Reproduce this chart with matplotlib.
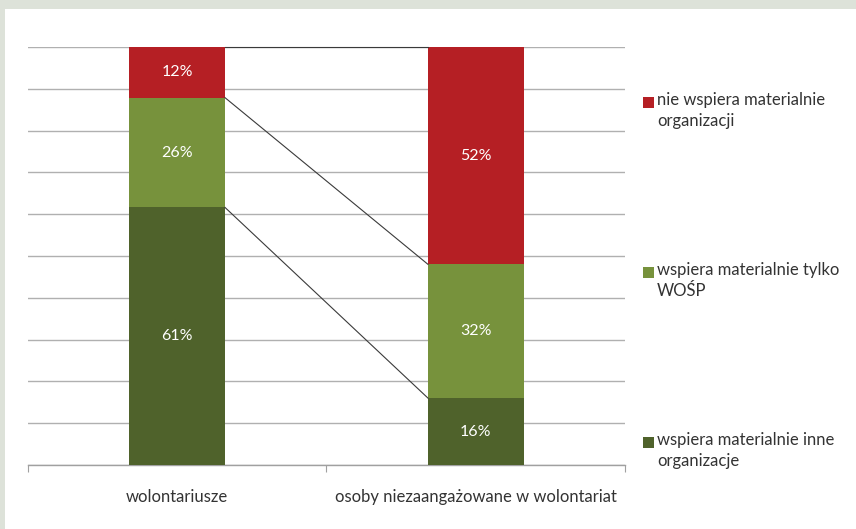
import matplotlib
matplotlib.use("Agg")
import matplotlib.pyplot as plt
from matplotlib.patches import Rectangle
import numpy as np

categories = ["wolontariusze", "osoby niezaangażowane w wolontariat"]
series_names = ["wspiera materialnie inne\norganizacje",
                "wspiera materialnie tylko\nWOŚP",
                "nie wspiera materialnie\norganizacji"]
series_values = [
    [61, 16],   # wspiera materialnie inne organizacje
    [26, 32],   # wspiera materialnie tylko WOŚP
    [12, 52],   # nie wspiera materialnie organizacji
]
colors = ["#4f622b", "#77923c", "#b51f24"]

plt.rcParams["font.family"] = ["Lato", "DejaVu Sans"]

fig = plt.figure(figsize=(8.56, 5.29), dpi=100, facecolor="#dde2d9")
fig.patches.append(Rectangle((5 / 856, 0), 1, (529 - 9) / 529,
                             transform=fig.transFigure, facecolor="white",
                             edgecolor="none", zorder=0))

ax = fig.add_axes([28 / 856, 64 / 529, 597 / 856, 418 / 529])
ax.set_zorder(2)
ax.set_facecolor("none")

vals = np.array(series_values, dtype=float)
totals = vals.sum(axis=0)
pct = vals / totals * 100  # 100% stacked
x = np.arange(len(categories))
width = 0.32

bottom = np.zeros(len(categories))
tops = []
for i, (name, col) in enumerate(zip(series_names, colors)):
    ax.bar(x, pct[i], width, bottom=bottom, color=col, zorder=3)
    for xi, b, h, v in zip(x, bottom, pct[i], vals[i]):
        ax.text(xi, b + h / 2, f"{int(v)}%", ha="center", va="center",
                color="white", fontsize=11.5, zorder=4)
    bottom = bottom + pct[i]
    tops.append(bottom.copy())

# series lines connecting segment boundaries
for t in tops:
    ax.plot([x[0] + width / 2, x[1] - width / 2], [t[0], t[1]],
            color="#3a3a3a", lw=0.8, zorder=4, clip_on=False)

ax.set_xlim(-0.5, 1.5)
ax.set_ylim(0, 100)
ax.set_yticks(np.arange(0, 101, 10))
ax.yaxis.grid(True, color="#b0b0b0", lw=1, zorder=1)
ax.tick_params(axis="y", left=False, labelleft=False)
for s in ["left", "right", "top"]:
    ax.spines[s].set_visible(False)
ax.spines["bottom"].set_color("#a0a0a0")
ax.spines["bottom"].set_linewidth(1)

ax.set_xticks([-0.5, 0.5, 1.5], minor=False)
ax.set_xticklabels([])
ax.tick_params(axis="x", which="major", length=5, color="#a0a0a0", direction="out")
ax.set_xticks(x, minor=True)
ax.set_xticklabels(categories, minor=True, fontsize=12, color="#333333")
ax.tick_params(axis="x", which="minor", length=0, pad=17)

# legend
leg_items = list(zip(series_names, colors))[::-1]
leg_y = [102, 272, 442]
for (name, col), yy in zip(leg_items, leg_y):
    fig.patches.append(Rectangle((643 / 856, 1 - (yy + 5.5) / 529), 11 / 856, 11 / 529,
                                 transform=fig.transFigure, facecolor=col,
                                 edgecolor="none", zorder=5))
    fig.text(657 / 856, 1 - (yy - 10) / 529, name, ha="left", va="top",
             fontsize=12, color="#333333", linespacing=1.35)

fig.savefig("out.png", dpi=100, facecolor=fig.get_facecolor())
